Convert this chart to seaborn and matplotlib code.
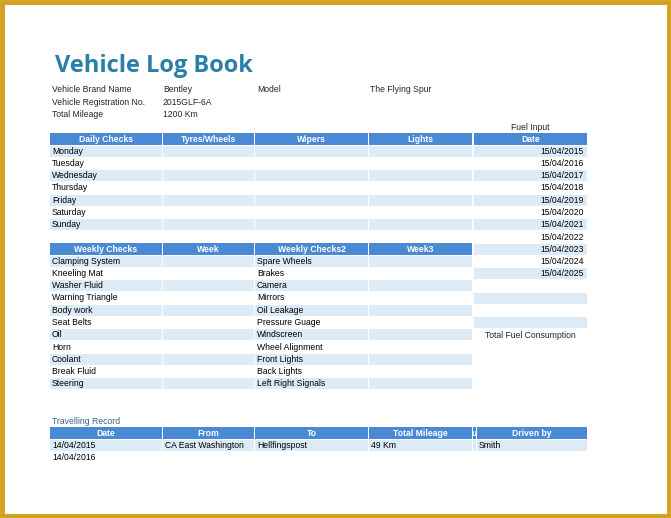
import matplotlib
matplotlib.use("Agg")
import matplotlib.pyplot as plt
import seaborn as sns
from matplotlib.patches import Rectangle

sns.set_theme(style="white")
plt.rcParams['font.family'] = ['Liberation Sans', 'DejaVu Sans']

# data
title = "Vehicle Log Book"
info_labels = ["Vehicle Brand Name", "Vehicle Registration No.", "Total Mileage"]
info_values = ["Bentley", "2015GLF-6A", "1200 Km"]
model_label, model_value = "Model", "The Flying Spur"

daily_headers = ["Daily Checks", "Tyres/Wheels", "Wipers", "Lights"]
days = ["Monday", "Tuesday", "Wednesday", "Thursday", "Friday", "Saturday", "Sunday"]

weekly_headers = ["Weekly Checks", "Week", "Weekly Checks2", "Week3"]
weekly_a = ["Clamping System", "Kneeling Mat", "Washer Fluid", "Warning Triangle", "Body work",
            "Seat Belts", "Oil", "Horn", "Coolant", "Break Fluid", "Steering"]
weekly_b = ["Spare Wheels", "Brakes", "Camera", "Mirrors", "Oil Leakage", "Pressure Guage",
            "Windscreen", "Wheel Alignment", "Front Lights", "Back Lights", "Left Right Signals"]

fuel_dates = ["15/04/2015", "15/04/2016", "15/04/2017", "15/04/2018", "15/04/2019", "15/04/2020",
              "15/04/2021", "15/04/2022", "15/04/2023", "15/04/2024", "15/04/2025", "", "", "", ""]

travel_headers = ["Date", "From", "To", "Total Mileage", "u", "Driven by"]
travel_rows = [["14/04/2015", "CA East Washington", "Hellfingspost", "49 Km", "", "Smith"],
               ["14/04/2016", "", "", "", "", ""]]

# layout (pixels)
W, H = 671, 518
HEAD = "#4A89D4"
SHADE = "#DDEBF7"
ROW = 12.25
cols4 = [(50, 162), (163, 254), (255, 368), (369, 472)]
cols6 = [(50, 162), (163, 254), (255, 368), (369, 472), (473, 476), (477, 587)]
fuel_col = (474, 587)
FS = 6.2

fig = plt.figure(figsize=(W / 100, H / 100), dpi=100)
ax = fig.add_axes([0, 0, 1, 1])
ax.set_xlim(0, W)
ax.set_ylim(H, 0)
ax.axis("off")

ax.add_patch(Rectangle((2, 2), W - 4, H - 4, fill=False, ec="#D4A11E", lw=3.5))


def cell(x0, x1, yc, fill=None, text="", align="left", color="black", bold=False):
    if fill:
        ax.add_patch(Rectangle((x0, yc - ROW / 2 + 0.6), x1 - x0, ROW - 1.2, fc=fill, ec="none"))
    if text:
        tx = (x0 + x1) / 2 if align == "center" else (x1 - 3 if align == "right" else x0 + 2)
        ax.text(tx, yc, text, ha=align, va="center", fontsize=FS, color=color,
                fontweight="bold" if bold else "normal")


def header(cols, yc, labels):
    for (x0, x1), lab in zip(cols, labels):
        cell(x0, x1, yc, HEAD, lab, "center", "white", True)


ax.text(55, 66, title, fontsize=17, color="#2A7FA8", fontweight="bold", va="center",
        family=["Open Sans", "DejaVu Sans"])

for i, (lab, val) in enumerate(zip(info_labels, info_values)):
    y = 90 + i * ROW
    ax.text(52, y, lab, fontsize=FS, va="center")
    ax.text(163, y, val, fontsize=FS, va="center")
ax.text(257, 90, model_label, fontsize=FS, va="center")
ax.text(370, 90, model_value, fontsize=FS, va="center")

# daily checks
y0 = 139
header(cols4, y0, daily_headers)
for i, d in enumerate(days):
    y = y0 + (i + 1) * ROW
    fill = SHADE if i % 2 == 0 else None
    for j, (x0, x1) in enumerate(cols4):
        cell(x0, x1, y, fill, d if j == 0 else "")

# weekly checks
y1 = 249
header(cols4, y1, weekly_headers)
for i, (a, b) in enumerate(zip(weekly_a, weekly_b)):
    y = y1 + (i + 1) * ROW
    fill = SHADE if i % 2 == 0 else None
    texts = [a, "", b, ""]
    for (x0, x1), t in zip(cols4, texts):
        cell(x0, x1, y, fill, t)

# fuel input
ax.text(sum(fuel_col) / 2, 128, "Fuel Input", fontsize=FS, ha="center", va="center")
header([fuel_col], y0, ["Date"])
for i, d in enumerate(fuel_dates):
    y = y0 + (i + 1) * ROW
    cell(*fuel_col, y, SHADE if i % 2 == 0 else None, d, "right")
ax.text(sum(fuel_col) / 2, y0 + (len(fuel_dates) + 1) * ROW, "Total Fuel Consumption",
        fontsize=FS, ha="center", va="center")

# travelling record
ax.text(52, 421, "Travelling Record", fontsize=FS, va="center", color="#3A5F8A")
y2 = 433
header(cols6, y2, travel_headers)
for i, r in enumerate(travel_rows):
    y = y2 + (i + 1) * ROW
    fill = SHADE if i % 2 == 0 else None
    for (x0, x1), t in zip(cols6, r):
        cell(x0, x1, y, fill, t)

fig.savefig("out.png", dpi=100)
